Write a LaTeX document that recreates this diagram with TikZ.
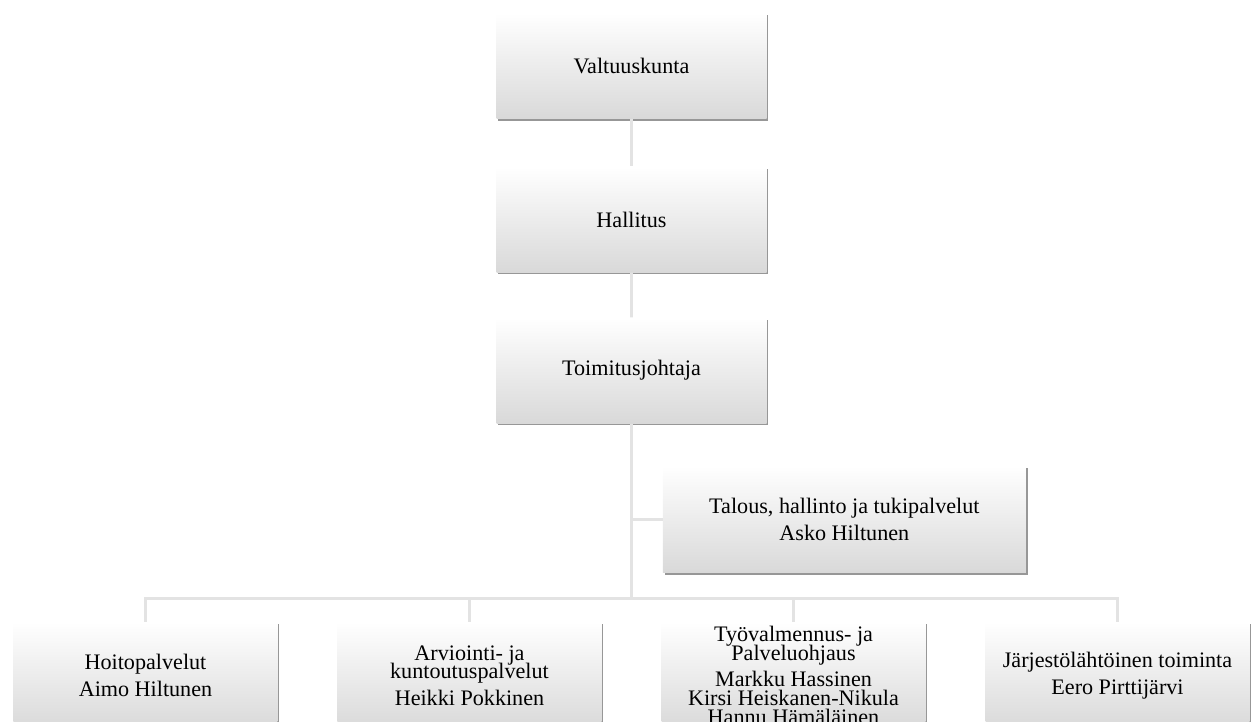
\documentclass[tikz,border=0pt]{standalone}
\usepackage{fontspec}
\setmainfont{Liberation Serif}
\usetikzlibrary{positioning}
\usetikzlibrary{shadows}
\newcommand{\orgfont}{\fontsize{12.6}{10.6}\selectfont\lineskiplimit=-10pt\relax}
\tikzset{
        orgnode/.style={align=center, rectangle, inner sep=1pt,
            top color=white, bottom color=gray!30,
            drop shadow={shadow xshift=1pt, shadow yshift=-1pt, fill=gray!90, opacity=0.9},
            font=\orgfont},
        % Board and management
        node_board/.style={orgnode, minimum width=5.4cm, minimum height=2.11cm},
        % Staff unit
        node_staff/.style={orgnode, minimum width=7.26cm, minimum height=2.14cm},
        % Service units
        node_unit/.style={orgnode, minimum width=5.28cm, minimum height=2.14cm},
        % Connectors
        org_line/.style={draw=gray!22, line width=1.6pt}
}
\begin{document}
\begin{tikzpicture}[
            edge from parent/.style={org_line},
            level 1/.style={level distance=3.07cm},
            level 2/.style={level distance=3.02cm},
            level 3/.style={level distance=6.1cm, sibling distance=6.48cm,
                edge from parent path={(\tikzparentnode.south) -- ++(0,-3.5cm) -| (\tikzchildnode.north)}}
        ]
            \clip (-12.63,1.32) rectangle (12.43,-13.12);
            \node[node_board] (valt) {Valtuuskunta}
                child { node[node_board] (hall) {Hallitus}
                    child { node[node_board] (toim) {Toimitusjohtaja}
                        child { node[node_unit] (hoito) {Hoitopalvelut\\[4.4pt]Aimo Hiltunen} }
                        child { node[node_unit] (arvio) {Arviointi- ja\\kuntoutuspalvelut\\[4.4pt]Heikki Pokkinen} }
                        child { node[node_unit] (tyo) {Työvalmennus- ja\\Palveluohjaus\\[4.4pt]Markku Hassinen\\Kirsi Heiskanen-Nikula\\Hannu Hämäläinen} }
                        child { node[node_unit] (jarj) {Järjestölähtöinen toiminta\\[4.4pt]Eero Pirttijärvi} }
                    }
                }
            ;
            \node[node_staff, below right=0.84cm and 0.62cm of toim.south] (talous) {Talous, hallinto ja tukipalvelut\\[4.7pt]Asko Hiltunen};
            \draw[org_line] (talous.west) -- (talous.west -| toim.south);
        \end{tikzpicture}
\end{document}
